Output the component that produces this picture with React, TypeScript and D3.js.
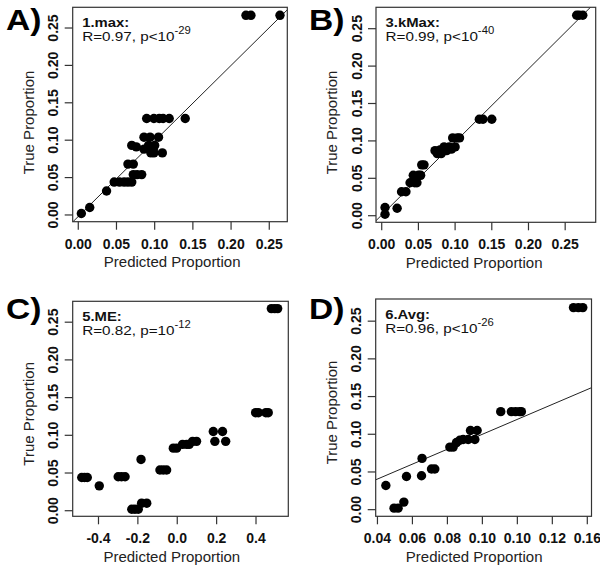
import React from "react";
import * as d3 from "d3";

// ---- Data ----
// Panel A: 1.max
const predA = [0.004, 0.015, 0.037, 0.047, 0.054, 0.060, 0.065, 0.070, 0.072, 0.077, 0.083, 0.065, 0.072, 0.070, 0.076, 0.086, 0.092, 0.098, 0.100, 0.095, 0.099, 0.110, 0.086, 0.094, 0.105, 0.0895, 0.099, 0.106, 0.111, 0.119, 0.140, 0.2195, 0.226, 0.264];
const trueA = [0.002, 0.010, 0.032, 0.044, 0.044, 0.044, 0.044, 0.044, 0.054, 0.054, 0.054, 0.068, 0.068, 0.093, 0.091, 0.088, 0.093, 0.088, 0.093, 0.083, 0.083, 0.083, 0.104, 0.104, 0.104, 0.129, 0.129, 0.129, 0.129, 0.129, 0.129, 0.267, 0.267, 0.267];

// Panel B: 3.kMax
const predB = [0.0045, 0.0045, 0.021, 0.027, 0.033, 0.0386, 0.045, 0.048, 0.043, 0.050, 0.053, 0.0545, 0.0576, 0.0726, 0.0758, 0.0794, 0.081, 0.085, 0.0885, 0.092, 0.095, 0.100, 0.0967, 0.103, 0.106, 0.133, 0.138, 0.150, 0.2657, 0.269, 0.274];
const trueB = [0.002, 0.011, 0.010, 0.032, 0.032, 0.044, 0.044, 0.044, 0.054, 0.054, 0.054, 0.068, 0.068, 0.087, 0.083, 0.088, 0.083, 0.092, 0.087, 0.092, 0.089, 0.092, 0.104, 0.104, 0.104, 0.129, 0.129, 0.129, 0.268, 0.268, 0.268];

// Panel C: 5.ME
const predC = [-0.485, -0.471, -0.457, -0.396, -0.300, -0.283, -0.265, -0.231, -0.215, -0.198, -0.181, -0.155, -0.184, -0.088, -0.071, -0.054, -0.020, -0.003, 0.027, 0.048, 0.061, 0.078, 0.098, 0.191, 0.183, 0.230, 0.246, 0.398, 0.412, 0.450, 0.462, 0.478, 0.495, 0.510];
const trueC = [0.044, 0.044, 0.044, 0.033, 0.045, 0.045, 0.045, 0.002, 0.002, 0.002, 0.010, 0.010, 0.068, 0.054, 0.054, 0.054, 0.083, 0.083, 0.088, 0.088, 0.088, 0.092, 0.092, 0.092, 0.105, 0.105, 0.092, 0.130, 0.130, 0.130, 0.130, 0.268, 0.268, 0.268];

// Panel D: 6.Avg
const predD = [0.0448, 0.0495, 0.0518, 0.0551, 0.0566, 0.0652, 0.0655, 0.0709, 0.0728, 0.0814, 0.0833, 0.0852, 0.0871, 0.089, 0.0919, 0.0957, 0.0932, 0.097, 0.1105, 0.1166, 0.119, 0.1213, 0.1223, 0.1521, 0.1549, 0.1574];
const trueD = [0.032, 0.002, 0.002, 0.010, 0.044, 0.045, 0.068, 0.054, 0.054, 0.083, 0.083, 0.089, 0.092, 0.093, 0.093, 0.093, 0.105, 0.105, 0.130, 0.130, 0.130, 0.130, 0.130, 0.268, 0.268, 0.268];

// Tick values / labels
const yTicks = [0, 0.05, 0.1, 0.15, 0.2, 0.25];
const yTickLabels = ["0.00", "0.05", "0.10", "0.15", "0.20", "0.25"];
const xTicksAB = [0, 0.05, 0.1, 0.15, 0.2, 0.25];
const xTickLabelsAB = ["0.00", "0.05", "0.10", "0.15", "0.20", "0.25"];
const xTicksC = [-0.4, -0.2, 0, 0.2, 0.4];
const xTickLabelsC = ["-0.4", "-0.2", "0.0", "0.2", "0.4"];
const xTicksD = [0.04, 0.06, 0.08, 0.1, 0.12, 0.14, 0.16];
const xTickLabelsD = ["0.04", "0.06", "0.08", "0.10", "0.10", "0.12", "0.16"];

// Fit lines [intercept, slope]
const fitA = [-0.002, 1.01];
const fitB = [0.001, 0.976];
const fitD = [0.001, 0.99];

const FONT = "'Liberation Sans', Arial, Helvetica, sans-serif";

type PanelProps = {
  id: string;
  letter: string;
  box: [number, number, number, number]; // left, top, right, bottom
  xDomain: [number, number];
  yDomain: [number, number];
  xs: number[];
  ys: number[];
  xTicks: number[];
  xTickLabels: string[];
  fit: number[] | null;
  name: string;
  stat: string;
  sup: string;
  letterPos: [number, number];
  xTitleX: number;
  yTitleY: number;
};

function Panel(p: PanelProps) {
  const [l, t, r, b] = p.box;
  const x = d3.scaleLinear().domain(p.xDomain).range([l, r]);
  const y = d3.scaleLinear().domain(p.yDomain).range([b, t]);
  const tick = 8;
  let fitPath: string | null = null;
  if (p.fit) {
    const [a, s] = p.fit;
    const line = d3
      .line<number>()
      .x((v) => x(v))
      .y((v) => y(a + s * v));
    fitPath = line([p.xDomain[0] - 0.05, p.xDomain[1] + 0.05]);
  }
  return (
    <g>
      <defs>
        <clipPath id={`clip-${p.id}`}>
          <rect x={l} y={t} width={r - l} height={b - t} />
        </clipPath>
      </defs>
      {/* letter */}
      <text
        transform={`translate(${p.letterPos[0]},${p.letterPos[1]}) scale(1.12,1)`}
        fontFamily={FONT}
        fontWeight="bold"
        fontSize={30}
        fill="#000"
      >
        {p.letter}
      </text>
      {/* points */}
      <g clipPath={`url(#clip-${p.id})`}>
        {fitPath && <path d={fitPath} stroke="#222" strokeWidth={1} fill="none" />}
        {p.xs.map((v, i) => (
          <circle key={i} cx={x(v)} cy={y(p.ys[i])} r={4.7} fill="#000" />
        ))}
      </g>
      {/* box */}
      <rect x={l} y={t} width={r - l} height={b - t} fill="none" stroke="#333" strokeWidth={1.2} />
      {/* y axis */}
      {yTicks.map((v, i) => (
        <g key={"y" + i}>
          <line x1={l - tick} x2={l} y1={y(v)} y2={y(v)} stroke="#333" strokeWidth={1.2} />
          <text
            transform={`translate(${l - 14.4},${y(v)}) rotate(-90)`}
            textAnchor="middle"
            fontFamily={FONT}
            fontWeight="bold"
            fontSize={14}
            fill="#111"
          >
            {yTickLabels[i]}
          </text>
        </g>
      ))}
      {/* x axis */}
      {p.xTicks.map((v, i) => (
        <g key={"x" + i}>
          <line x1={x(v)} x2={x(v)} y1={b} y2={b + tick} stroke="#333" strokeWidth={1.2} />
          <text x={x(v)} y={b + 27} textAnchor="middle" fontFamily={FONT} fontWeight="bold" fontSize={14} fill="#111">
            {p.xTickLabels[i]}
          </text>
        </g>
      ))}
      {/* titles */}
      <text x={p.xTitleX} y={b + 45.5} textAnchor="middle" fontFamily={FONT} fontSize={15} fill="#222">
        Predicted Proportion
      </text>
      <text
        transform={`translate(${l - 39},${p.yTitleY}) rotate(-90)`}
        textAnchor="middle"
        fontFamily={FONT}
        fontSize={15}
        fill="#222"
      >
        True Proportion
      </text>
      {/* annotation */}
      <text
        transform={`translate(${l + 9.5},${t + 19.5}) scale(1.1,1)`}
        fontFamily={FONT}
        fontWeight="bold"
        fontSize={13.5}
        fill="#111"
      >
        {p.name}
      </text>
      <text
        transform={`translate(${l + 9.5},${t + 33.5}) scale(1.13,1)`}
        fontFamily={FONT}
        fontSize={13.5}
        fill="#111"
      >
        {p.stat}
        <tspan dy={-7} fontSize={10}>
          {p.sup}
        </tspan>
      </text>
    </g>
  );
}

export default function App() {
  return (
    <svg
      width={600}
      height={566}
      style={{ position: "absolute", left: 0, top: 0, background: "#fff" }}
    >
      <rect x={0} y={0} width={600} height={566} fill="#fff" />
      <Panel
        id="A"
        letter="A)"
        box={[72.7, 7.3, 287.3, 221.7]}
        xDomain={[-0.0073, 0.2736]}
        yDomain={[-0.009, 0.2777]}
        xs={predA}
        ys={trueA}
        xTicks={xTicksAB}
        xTickLabels={xTickLabelsAB}
        fit={fitA}
        name="1.max:"
        stat="R=0.97, p<10"
        sup="-29"
        letterPos={[6, 30]}
        xTitleX={172.2}
        yTitleY={122.5}
      />
      <Panel
        id="B"
        letter="B)"
        box={[376, 7.3, 595.7, 222.3]}
        xDomain={[-0.0078, 0.2916]}
        yDomain={[-0.0088, 0.2786]}
        xs={predB}
        ys={trueB}
        xTicks={xTicksAB}
        xTickLabels={xTickLabelsAB}
        fit={fitB}
        name="3.kMax:"
        stat="R=0.99, p<10"
        sup="-40"
        letterPos={[309, 30]}
        xTitleX={474.2}
        yTitleY={122.5}
      />
      <Panel
        id="C"
        letter="C)"
        box={[72.7, 301.3, 288.3, 516.3]}
        xDomain={[-0.531, 0.564]}
        yDomain={[-0.0074, 0.2777]}
        xs={predC}
        ys={trueC}
        xTicks={xTicksC}
        xTickLabels={xTickLabelsC}
        fit={null}
        name="5.ME:"
        stat="R=0.82, p=10"
        sup="-12"
        letterPos={[6, 319]}
        xTitleX={171.8}
        yTitleY={413.8}
      />
      <Panel
        id="D"
        letter="D)"
        box={[375.7, 299, 591.5, 516.3]}
        xDomain={[0.039, 0.1624]}
        yDomain={[-0.0088, 0.2794]}
        xs={predD}
        ys={trueD}
        xTicks={xTicksD}
        xTickLabels={xTickLabelsD}
        fit={fitD}
        name="6.Avg:"
        stat="R=0.96, p<10"
        sup="-26"
        letterPos={[309, 319]}
        xTitleX={474.2}
        yTitleY={412.5}
      />
    </svg>
  );
}
